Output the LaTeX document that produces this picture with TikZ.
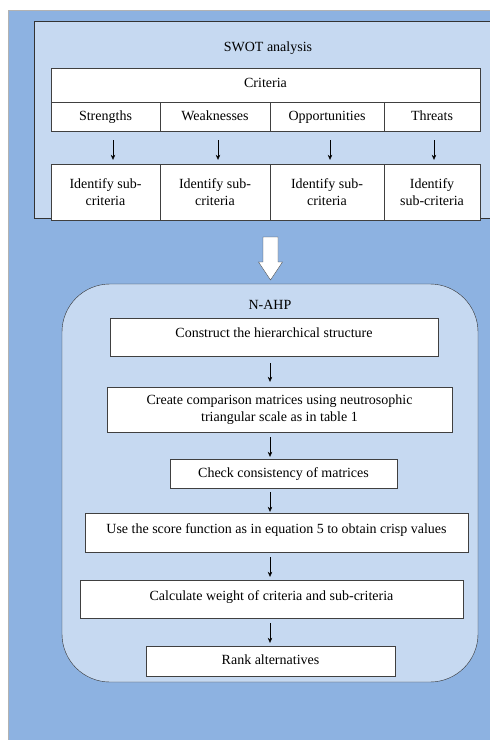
\documentclass[tikz,border=0pt]{standalone}
\usepackage{fontspec}
\setmainfont{Liberation Serif}
\usetikzlibrary{arrows.meta}
\definecolor{outerblue}{RGB}{141,178,225}
\definecolor{paleblue}{RGB}{198,217,241}

\begin{document}
\begin{tikzpicture}[x=1pt,y=-1pt,
    every node/.style={font=\fontsize{14}{17}\selectfont},
    cell/.style={draw=black!75,fill=white,inner sep=0pt,align=center},
    oneline/.style={cell,text height=10pt,text depth=3pt},
    panel/.style={draw=black!80,fill=paleblue,inner sep=0pt},
    flow/.style={-{Stealth[length=5pt,width=4.5pt]},shorten <=5pt,shorten >=3pt}]
    \useasboundingbox (0,0) rectangle (490,740);
    \draw[black!30,fill=outerblue] (8,10) rectangle (496,746);

    % SWOT part
    \node[panel,minimum width=461pt,minimum height=197pt] (swot) at (264.5,119.5) {};
    \node (swottitle) at (268,48) {SWOT analysis};
    \node[oneline,minimum width=429pt,minimum height=34pt,text depth=6pt] (crit) at (265.5,85) {Criteria};
    \node[oneline,minimum width=109pt,minimum height=29pt] (str) at (105.5,116.5) {Strengths};
    \node[oneline,minimum width=110pt,minimum height=29pt] (wea) at (215,116.5) {Weaknesses};
    \node[oneline,minimum width=114pt,minimum height=29pt] (opp) at (327,116.5) {Opportunities};
    \node[oneline,minimum width=96pt,minimum height=29pt] (thr) at (432,116.5) {Threats};
    \node[cell,minimum width=109pt,minimum height=56pt] (strsub) at (105.5,192) {Identify sub-\\criteria};
    \node[cell,minimum width=110pt,minimum height=56pt] (weasub) at (215,192) {Identify sub-\\criteria};
    \node[cell,minimum width=114pt,minimum height=56pt] (oppsub) at (327,192) {Identify sub-\\criteria};
    \node[cell,minimum width=96pt,minimum height=56pt] (thrsub) at (432,192) {Identify\\sub-criteria};
    \foreach \a/\b/\d in {str/strsub/7.5,wea/weasub/3,opp/oppsub/3,thr/thrsub/2}
        \draw[flow,shorten <=9pt,shorten >=4pt] ([xshift=\d pt]\a.south) -- ([xshift=\d pt]\b.north);

    % link between the two parts
    \coordinate (link) at (270.5,237);
    \draw[black!75,fill=white] (link) ++(-7.5,0) -- ++(0,25) -- ++(-4.5,0) -- ++(12,18)
        -- ++(12,-18) -- ++(-4.5,0) -- ++(0,-25) -- cycle;

    % N-AHP part
    \node[panel,rounded corners=48pt,minimum width=416pt,minimum height=398pt] (ahp) at (270,483) {};
    \node (ahptitle) at (270,305) {N-AHP};
    \coordinate (axis) at (270,0);
    \node[oneline,minimum width=328pt,minimum height=38pt,text depth=9pt] (hier) at (274,337) {Construct the hierarchical structure};
    \node[cell,minimum width=345pt,minimum height=45pt] (comp) at (279.5,409.5) {Create comparison matrices using neutrosophic\\triangular scale as in table 1};
    \node[oneline,minimum width=227pt,minimum height=29pt] (cons) at (283.5,473.5) {Check consistency of matrices};
    \node[oneline,minimum width=383pt,minimum height=39pt,text depth=8pt] (score) at (276.5,532.5) {Use the score function as in equation 5 to obtain crisp values};
    \node[oneline,minimum width=383pt,minimum height=38pt,text depth=7pt] (weight) at (271.5,599) {Calculate weight of criteria and sub-criteria};
    \node[oneline,minimum width=249pt,minimum height=30pt] (rank) at (270.5,661) {Rank alternatives};
    \draw[flow,shorten <=7pt,shorten >=5pt] (hier.south -| axis) -- (comp.north -| axis);
    \draw[flow,shorten >=2pt] (comp.south -| axis) -- (cons.north -| axis);
    \draw[flow,shorten <=4pt,shorten >=1pt] (cons.south -| axis) -- (score.north -| axis);
    \draw[flow] (score.south -| axis) -- (weight.north -| axis);
    \draw[flow] (weight.south -| axis) -- (rank.north -| axis);
\end{tikzpicture}
\end{document}
